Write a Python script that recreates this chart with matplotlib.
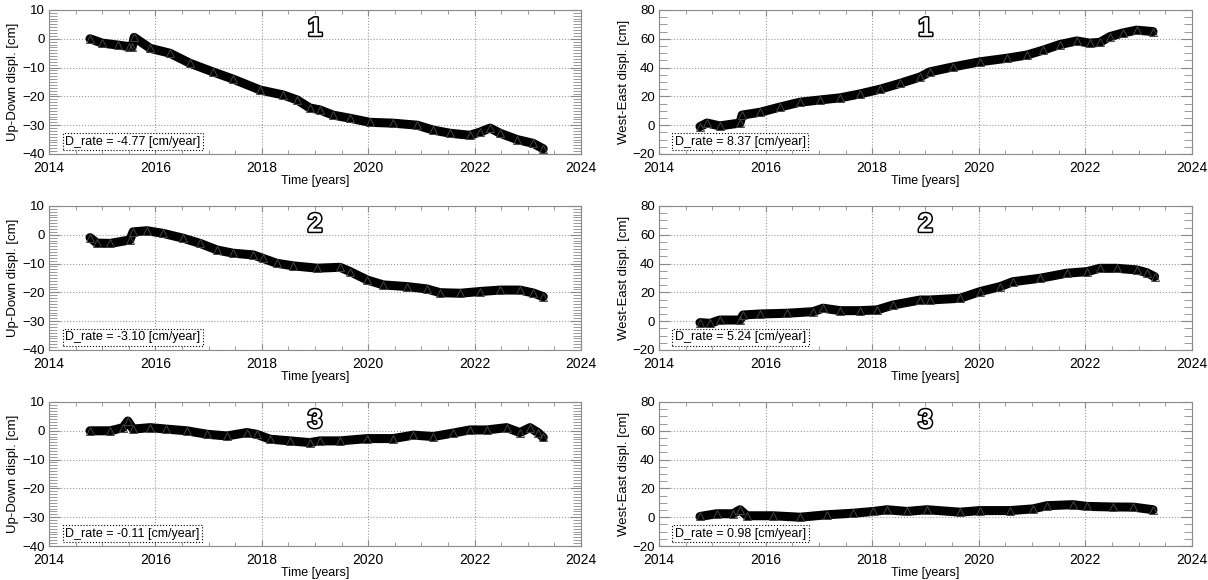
"""
Displacement time series for three points: Up-Down and West-East components.
Saved to out.png; nothing is shown interactively.
"""

import matplotlib
matplotlib.use("Agg")
import matplotlib.pyplot as plt
import matplotlib.patheffects as pe
from matplotlib.ticker import MultipleLocator

plt.rcParams["font.family"] = ["Liberation Sans", "DejaVu Sans"]

# ---------------------------------------------------------------------------
# Data
# ---------------------------------------------------------------------------

ud1_t = [2014.77, 2015.0, 2015.3, 2015.5, 2015.56, 2015.6, 2015.9, 2016.27, 2016.65,
         2017.08, 2017.46, 2017.97, 2018.4, 2018.66, 2018.9, 2019.09, 2019.34, 2019.66,
         2020.03, 2020.47, 2020.92, 2021.22, 2021.54, 2021.91, 2022.1, 2022.29, 2022.48,
         2022.8, 2023.1, 2023.29]
ud1_v = [0.0, -1.5, -2.2, -2.7, -3.0, 0.5, -3.3, -5.0, -8.5,
         -11.5, -14.0, -17.8, -19.5, -21.2, -24.0, -24.7, -26.5, -27.6,
         -29.0, -29.3, -30.0, -31.7, -32.8, -33.5, -32.4, -31.0, -32.8,
         -35.0, -36.3, -38.2]

ud2_t = [2014.77, 2014.9, 2015.15, 2015.52, 2015.58, 2015.84, 2016.14, 2016.52, 2016.84,
         2017.16, 2017.46, 2017.84, 2018.02, 2018.28, 2018.59, 2019.04, 2019.47, 2019.66,
         2019.98, 2020.28, 2020.73, 2021.1, 2021.35, 2021.73, 2022.1, 2022.48, 2022.85,
         2023.1, 2023.29]
ud2_v = [-1.0, -2.9, -3.0, -1.8, 1.0, 1.4, 0.5, -1.2, -3.0,
         -5.3, -6.4, -7.0, -8.2, -9.9, -10.8, -11.6, -11.3, -12.8,
         -15.7, -17.4, -18.0, -18.8, -20.1, -20.3, -19.7, -19.2, -19.2,
         -20.2, -21.5]

ud3_t = [2014.77, 2015.15, 2015.39, 2015.48, 2015.58, 2015.9, 2016.2, 2016.59, 2016.97,
         2017.34, 2017.72, 2017.9, 2018.15, 2018.53, 2018.9, 2019.09, 2019.47, 2019.98,
         2020.47, 2020.85, 2021.22, 2021.59, 2021.91, 2022.23, 2022.6, 2022.85, 2023.04,
         2023.19, 2023.29]
ud3_v = [0.0, 0.0, 1.1, 3.4, 0.6, 1.1, 0.6, 0.0, -1.2,
         -1.8, -0.6, -1.2, -2.9, -3.5, -4.1, -3.5, -3.5, -2.7,
         -2.7, -1.5, -2.0, -0.8, 0.3, 0.3, 1.1, -0.6, 1.1,
         -0.6, -2.3]

we1_t = [2014.77, 2014.9, 2015.14, 2015.52, 2015.56, 2015.9, 2016.27, 2016.65, 2017.02,
         2017.4, 2017.77, 2018.15, 2018.52, 2018.9, 2019.08, 2019.52, 2020.02, 2020.53,
         2020.9, 2021.2, 2021.52, 2021.84, 2022.08, 2022.27, 2022.46, 2022.7, 2022.96,
         2023.27]
we1_v = [-1.0, 1.5, -0.5, 1.5, 7.0, 9.0, 12.6, 16.0, 17.5,
         19.0, 21.7, 25.0, 29.0, 33.5, 37.0, 40.5, 44.0, 46.5,
         48.7, 52.0, 56.0, 58.5, 57.0, 57.5, 61.5, 64.0, 66.0,
         65.0]

we2_t = [2014.77, 2014.96, 2015.14, 2015.52, 2015.58, 2015.9, 2016.4, 2016.89, 2017.08,
         2017.4, 2017.77, 2018.09, 2018.39, 2018.9, 2019.08, 2019.65, 2020.02, 2020.4,
         2020.64, 2021.15, 2021.65, 2022.03, 2022.27, 2022.59, 2022.96, 2023.15, 2023.3]
we2_v = [-1.0, -1.5, 0.8, 0.8, 4.3, 5.0, 5.5, 6.6, 9.0,
         7.3, 7.3, 7.8, 11.2, 14.7, 14.7, 15.9, 20.5, 24.0,
         27.4, 29.8, 33.3, 34.4, 36.7, 36.7, 35.6, 33.7, 30.9]

we3_t = [2014.77, 2015.08, 2015.39, 2015.52, 2015.65, 2016.14, 2016.65, 2017.15, 2017.65,
         2018.02, 2018.28, 2018.65, 2019.03, 2019.65, 2020.02, 2020.59, 2021.02, 2021.28,
         2021.77, 2022.03, 2022.52, 2022.9, 2023.27]
we3_v = [0.5, 2.4, 2.4, 5.2, 1.0, 1.0, 0.0, 1.7, 2.8,
         4.0, 5.2, 4.0, 5.2, 3.5, 4.6, 4.6, 5.8, 8.0,
         8.7, 7.5, 7.1, 7.0, 5.2]

rates_ud = ["-4.77", "-3.10", "-0.11"]
rates_we = ["8.37", "5.24", "0.98"]
point_ids = ["1", "2", "3"]

ud_series = [(ud1_t, ud1_v), (ud2_t, ud2_v), (ud3_t, ud3_v)]
we_series = [(we1_t, we1_v), (we2_t, we2_v), (we3_t, we3_v)]

# ---------------------------------------------------------------------------
# Helpers
# ---------------------------------------------------------------------------

GRAY = "#8a8a8a"


def _style_axis(ax, ylim, ymajor, yminor, ylabel):
    ax.set_xlim(2014, 2024)
    ax.set_ylim(*ylim)
    ax.xaxis.set_major_locator(MultipleLocator(2))
    ax.xaxis.set_minor_locator(MultipleLocator(0.5))
    ax.yaxis.set_major_locator(MultipleLocator(ymajor))
    ax.yaxis.set_minor_locator(MultipleLocator(yminor))
    ax.tick_params(which="both", direction="in", top=True, right=True, color=GRAY)
    ax.tick_params(axis="y", which="major", length=8, labelsize=9.5, pad=3)
    ax.tick_params(axis="y", which="minor", length=6)
    ax.tick_params(axis="x", which="major", length=4, labelsize=10, pad=5)
    ax.tick_params(axis="x", which="minor", length=3)
    for s in ax.spines.values():
        s.set_color(GRAY)
        s.set_linewidth(0.8)
    ax.grid(True, which="major", ls=":", color="#9a9a9a", lw=0.8)
    ax.set_xlabel("Time [years]", fontsize=9, labelpad=0)
    ax.set_ylabel(ylabel, fontsize=9.5, labelpad=2)


def _draw_panel(ax, t, v, rate, pid):
    ax.plot(t, v, color="black", lw=6.5, solid_joinstyle="round",
            solid_capstyle="round", zorder=3)
    ax.plot(t, v, ls="none", marker="^", ms=6, mfc="none", mec="#444444",
            mew=0.7, zorder=4)
    ax.text(0.03, 0.045, f"D_rate = {rate} [cm/year]", transform=ax.transAxes,
            fontsize=9, va="bottom", ha="left", zorder=5,
            bbox=dict(boxstyle="square,pad=0.2", fc="white", ec="black",
                      ls=":", lw=0.8))
    ax.text(0.5, 0.87, pid, transform=ax.transAxes, fontsize=19,
            fontweight="bold", color="white", ha="center", va="center",
            zorder=5, path_effects=[pe.withStroke(linewidth=2.2, foreground="black")])


# ---------------------------------------------------------------------------
# Figure
# ---------------------------------------------------------------------------

fig = plt.figure(figsize=(12.08, 5.8), dpi=100)

row_bottoms = [0.7345, 0.3966, 0.0586]
height = 0.2483

for i in range(3):
    ax_ud = fig.add_axes([0.0406, row_bottoms[i], 0.4404, height])
    _style_axis(ax_ud, (-40, 10), 10, 1, "Up-Down displ. [cm]")
    _draw_panel(ax_ud, *ud_series[i], rates_ud[i], point_ids[i])

    ax_we = fig.add_axes([0.5455, row_bottoms[i], 0.4412, height])
    _style_axis(ax_we, (-20, 80), 20, 5, "West-East displ. [cm]")
    _draw_panel(ax_we, *we_series[i], rates_we[i], point_ids[i])

fig.savefig("out.png", dpi=100)
plt.close(fig)
